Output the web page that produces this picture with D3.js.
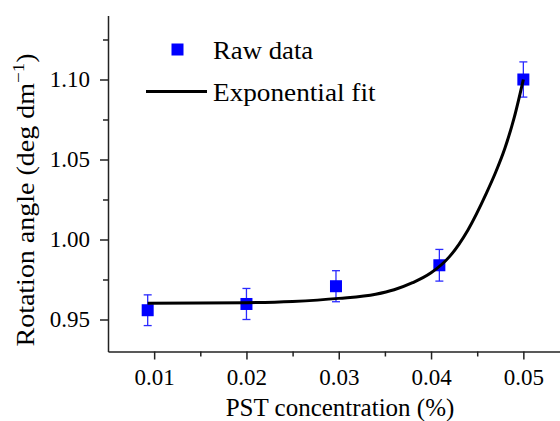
<!DOCTYPE html>
<html>
<head>
<meta charset="utf-8">
<script src="https://cdn.jsdelivr.net/npm/d3@7"></script>
</head>
<body style="margin:0">
<svg class="chart" width="560" height="421" font-family="Liberation Serif"></svg>
<script>
// measured points (PST concentration %, rotation angle, error)
const rawX = [0.0093, 0.0200, 0.0297, 0.0409, 0.0500];
const rawY = [0.9558, 0.9597, 0.9708, 0.9839, 1.1000];
const rawErr = [0.0096, 0.0097, 0.0097, 0.0099, 0.0110];

// exponential fit curve
const fitX = [0.0093, 0.015, 0.020, 0.025, 0.030, 0.034, 0.036, 0.038, 0.040, 0.042, 0.044, 0.046, 0.047, 0.048, 0.049, 0.0500];
const fitY = [0.9602, 0.9603, 0.9605, 0.9613, 0.9632, 0.9658, 0.9686, 0.9730, 0.9792, 0.9893, 1.0060, 1.0290, 1.0420, 1.0570, 1.0760, 1.1000];

const xTicks = [0.01, 0.02, 0.03, 0.04, 0.05];
const xMinor = [0.015, 0.025, 0.035, 0.045];
const yTicks = [0.95, 1.00, 1.05, 1.10];
const yMinor = [0.975, 1.025, 1.075, 1.125];

const width = 560, height = 421;
const fontName = "Liberation Serif";

var svg = d3.select(".chart");

svg.append("rect").attr("width", width).attr("height", height).attr("fill", "#fff");

const x = d3.scaleLinear().domain([0.005, 0.055]).range([108, 569.5]);
const y = d3.scaleLinear().domain([0.93, 1.14]).range([351.5, 15.5]);

function styleAxis(g) {
  g.attr("font-family", fontName).attr("font-size", 23);
  g.selectAll("line").attr("stroke", "#222").attr("stroke-width", 1.5);
  g.selectAll("path").attr("stroke", "#222").attr("stroke-width", 1.5);
  g.selectAll("text").attr("fill", "#000");
}

// minor ticks
svg.append("g")
  .attr("transform", "translate(0," + y.range()[0] + ")")
  .call(d3.axisBottom(x).tickValues(xMinor).tickSize(5).tickFormat(""))
  .call(styleAxis)
  .select(".domain").remove();

svg.append("g")
  .attr("transform", "translate(" + x.range()[0] + ",0)")
  .call(d3.axisLeft(y).tickValues(yMinor).tickSize(5).tickFormat(""))
  .call(styleAxis)
  .select(".domain").remove();

// main axes
svg.append("g")
  .attr("transform", "translate(0," + y.range()[0] + ")")
  .call(d3.axisBottom(x).tickValues(xTicks).tickSize(8).tickSizeOuter(0).tickPadding(9).tickFormat(d3.format(".2f")))
  .call(styleAxis);

svg.append("g")
  .attr("transform", "translate(" + x.range()[0] + ",0)")
  .call(d3.axisLeft(y).tickValues(yTicks).tickSize(8).tickSizeOuter(0).tickPadding(10).tickFormat(d3.format(".2f")))
  .call(styleAxis);

// axis titles
svg.append("text")
  .attr("x", 340)
  .attr("y", 416)
  .attr("text-anchor", "middle")
  .attr("font-family", fontName)
  .attr("font-size", 25)
  .text("PST concentration (%)");

var ylab = svg.append("text")
  .attr("transform", "translate(34,200) rotate(-90) scale(1.12,1)")
  .attr("text-anchor", "middle")
  .attr("font-family", fontName)
  .attr("font-size", 25);
ylab.append("tspan").text("Rotation angle (deg dm");
ylab.append("tspan").attr("dy", -10).attr("font-size", 17).text("\u22121");
ylab.append("tspan").attr("dy", 10).text(")");

// error bars
const pts = rawX.map((d, i) => ({x: d, y: rawY[i], e: rawErr[i]}));
const errG = svg.append("g")
  .attr("stroke", "#2a2aff")
  .attr("stroke-width", 1.3)
  .attr("fill", "none");

pts.forEach(p => {
  errG.append("line")
    .attr("x1", x(p.x)).attr("x2", x(p.x))
    .attr("y1", y(p.y - p.e)).attr("y2", y(p.y + p.e));
  errG.append("line")
    .attr("x1", x(p.x) - 4).attr("x2", x(p.x) + 4)
    .attr("y1", y(p.y + p.e)).attr("y2", y(p.y + p.e));
  errG.append("line")
    .attr("x1", x(p.x) - 4).attr("x2", x(p.x) + 4)
    .attr("y1", y(p.y - p.e)).attr("y2", y(p.y - p.e));
});

// markers
const sq = 12;
svg.selectAll(".marker")
  .data(pts)
  .enter().append("rect")
  .attr("class", "marker")
  .attr("x", d => x(d.x) - sq / 2)
  .attr("y", d => y(d.y) - sq / 2)
  .attr("width", sq)
  .attr("height", sq)
  .attr("fill", "#0000ff");

// fit line
const fitData = fitX.map((d, i) => ({x: d, y: fitY[i]}));
const line = d3.line()
  .x(d => x(d.x))
  .y(d => y(d.y))
  .curve(d3.curveMonotoneX);

svg.append("path")
  .datum(fitData)
  .attr("d", line)
  .attr("fill", "none")
  .attr("stroke", "#000")
  .attr("stroke-width", 3);

// legend
svg.append("rect")
  .attr("x", 177.5 - sq / 2).attr("y", 49.5 - sq / 2)
  .attr("width", sq).attr("height", sq)
  .attr("fill", "#0000ff");
svg.append("text")
  .attr("transform", "translate(213,58.5) scale(1.07,1)")
  .attr("font-family", fontName)
  .attr("font-size", 25)
  .text("Raw data");

svg.append("line")
  .attr("x1", 146).attr("x2", 207)
  .attr("y1", 91.5).attr("y2", 91.5)
  .attr("stroke", "#000").attr("stroke-width", 3);
svg.append("text")
  .attr("transform", "translate(213,100.5) scale(1.09,1)")
  .attr("font-family", fontName)
  .attr("font-size", 25)
  .text("Exponential fit");
</script>
</body>
</html>
